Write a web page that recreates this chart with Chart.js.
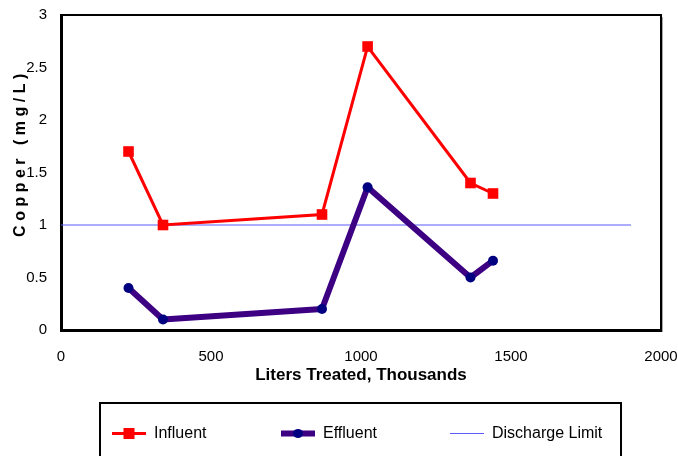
<!DOCTYPE html>
<html>
<head>
<meta charset="utf-8">
<script src="https://cdn.jsdelivr.net/npm/chart.js@4/dist/chart.umd.min.js"></script>
<style>
html,body{margin:0;padding:0;background:#fff;}
canvas{display:block;}
</style>
</head>
<body>
<canvas id="c" width="678" height="456"></canvas>
<script>
// ---- data ----
const litersTreated = [225, 340, 870, 1022, 1365, 1440];
const influent      = [1.7, 1.0, 1.1, 2.7, 1.4, 1.3];
const effluent      = [0.4, 0.1, 0.2, 1.36, 0.5, 0.66];
const limitX        = [0, 1900];
const limitY        = [1, 1];
const seriesNames   = ['Influent', 'Effluent', 'Discharge Limit'];
const xTicks        = [0, 500, 1000, 1500, 2000];
const yTicks        = [0, 0.5, 1, 1.5, 2, 2.5, 3];
const xTitle        = 'Liters Treated, Thousands';
const yTitle        = 'Copper (mg/L)';

const toPts = (xs, ys) => xs.map((x, i) => ({x: x, y: ys[i]}));
const FONT = '"Liberation Sans", Arial, sans-serif';

const extras = {
  id: 'extras',
  afterDraw(chart) {
    const {ctx, chartArea: a} = chart;
    ctx.save();
    // top and right frame
    ctx.strokeStyle = '#000';
    ctx.lineWidth = 2;
    ctx.beginPath();
    ctx.moveTo(a.left, a.top);
    ctx.lineTo(a.right, a.top);
    ctx.lineTo(a.right, a.bottom);
    ctx.stroke();
    ctx.strokeStyle = 'rgba(0,0,0,0.35)';
    ctx.lineWidth = 1;
    ctx.beginPath();
    ctx.moveTo(a.right + 1.5, a.top + 2);
    ctx.lineTo(a.right + 1.5, a.bottom + 2);
    ctx.stroke();

    // y title (letter-spaced, rotated)
    ctx.save();
    ctx.translate(21, 155);
    ctx.rotate(-Math.PI / 2);
    ctx.font = 'bold 16px ' + FONT;
    ctx.fillStyle = '#000';
    ctx.textAlign = 'center';
    ctx.textBaseline = 'middle';
    try { ctx.letterSpacing = '4.5px'; } catch (e) {}
    ctx.fillText(yTitle, 2, 0);
    ctx.restore();

    // legend box
    ctx.strokeStyle = '#000';
    ctx.lineWidth = 2;
    ctx.strokeRect(100, 403, 521, 60);
    const starts = [112, 281, 450];
    const ly = 433.5;
    chart.data.datasets.forEach((ds, i) => {
      const x0 = starts[i], x1 = x0 + 34, cx = (x0 + x1) / 2;
      ctx.strokeStyle = ds.borderColor;
      ctx.lineWidth = ds.borderWidth;
      ctx.lineCap = 'butt';
      ctx.beginPath();
      ctx.moveTo(x0, ly);
      ctx.lineTo(x1, ly);
      ctx.stroke();
      if (ds.pointRadius > 0) {
        ctx.fillStyle = ds.pointBackgroundColor;
        if (ds.pointStyle === 'rect') {
          ctx.fillRect(cx - 5.5, ly - 5.5, 11, 11);
        } else {
          ctx.beginPath();
          ctx.ellipse(cx, ly, 5, 4.5, 0, 0, Math.PI * 2);
          ctx.fill();
        }
      }
      ctx.fillStyle = '#000';
      ctx.font = '16px ' + FONT;
      ctx.textAlign = 'left';
      ctx.textBaseline = 'middle';
      ctx.fillText(ds.label, x1 + 8, ly);
    });
    ctx.restore();
  }
};

new Chart(document.getElementById('c'), {
  type: 'line',
  data: {
    datasets: [
      {
        label: seriesNames[0],
        data: toPts(litersTreated, influent),
        borderColor: '#ff0000',
        backgroundColor: '#ff0000',
        borderWidth: 3,
        pointStyle: 'rect',
        pointRadius: 7.5,
        pointBorderWidth: 0,
        pointBackgroundColor: '#ff0000',
        pointBorderColor: '#ff0000',
        tension: 0
      },
      {
        label: seriesNames[1],
        data: toPts(litersTreated, effluent),
        borderColor: '#3d0083',
        backgroundColor: '#3d0083',
        borderWidth: 6,
        borderJoinStyle: 'round',
        borderCapStyle: 'round',
        pointStyle: 'circle',
        pointRadius: 5,
        pointBorderWidth: 0,
        pointBackgroundColor: '#000080',
        pointBorderColor: '#000080',
        tension: 0
      },
      {
        label: seriesNames[2],
        data: toPts(limitX, limitY),
        borderColor: '#5a5aff',
        backgroundColor: '#5a5aff',
        borderWidth: 1,
        pointRadius: 0,
        tension: 0
      }
    ]
  },
  options: {
    responsive: false,
    animation: false,
    events: [],
    layout: {padding: {left: 0, top: 15, right: 17, bottom: 0}},
    plugins: {legend: {display: false}, tooltip: {enabled: false}},
    scales: {
      x: {
        type: 'linear',
        min: 0, max: 2000,
        afterBuildTicks: s => { s.ticks = xTicks.map(v => ({value: v})); },
        afterFit: s => { s.height = 126; s.paddingLeft = 0; s.paddingRight = 0; },
        grid: {display: false, drawTicks: false},
        border: {display: true, color: '#000', width: 3},
        ticks: {color: '#000', font: {family: FONT, size: 15}, padding: 18, maxRotation: 0, autoSkip: false,
                callback: v => String(v)},
        title: {display: true, text: xTitle, color: '#000', font: {family: FONT, size: 17, weight: 'bold'}, padding: {top: 0, bottom: 70}}
      },
      y: {
        type: 'linear',
        min: 0, max: 3,
        afterBuildTicks: s => { s.ticks = yTicks.map(v => ({value: v})); },
        afterFit: s => { s.width = 61; s.paddingTop = 0; s.paddingBottom = 0; },
        grid: {display: false, drawTicks: false},
        border: {display: true, color: '#000', width: 3},
        ticks: {color: '#000', font: {family: FONT, size: 15}, padding: 14, autoSkip: false,
                callback: v => String(v)}
      }
    }
  },
  plugins: [extras]
});
</script>
</body>
</html>
